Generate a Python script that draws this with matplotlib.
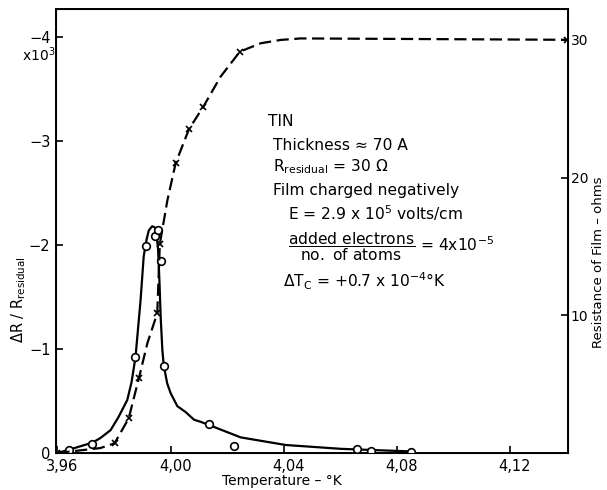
import matplotlib
matplotlib.use("Agg")
import matplotlib.pyplot as plt
from matplotlib.transforms import ScaledTranslation

plt.rcParams['font.family'] = ['DejaVu Sans']
plt.rcParams['mathtext.default'] = 'regular'

# ---- data ----
# open circles: Delta R / R_residual (x 10^-3)
circ_T = [3.964, 3.9723, 3.9875, 3.9912, 3.9944, 3.9955, 3.9965, 3.9976,
          4.0136, 4.0224, 4.0658, 4.0708, 4.0850]
circ_dR = [-0.03, -0.09, -0.92, -1.99, -2.09, -2.14, -1.85, -0.84,
           -0.28, -0.07, -0.035, -0.022, -0.013]

# solid fitted curve through the circles
fit_T = [3.9600, 3.9639, 3.9724, 3.9752, 3.9788, 3.9816, 3.9847, 3.9862,
         3.9876, 3.9894, 3.9905, 3.9915, 3.9923, 3.9935, 3.9944, 3.9950,
         3.9956, 3.9961, 3.9965, 3.9971, 3.9976, 3.9988, 4.0000, 4.0024,
         4.0053, 4.0083, 4.0106, 4.0135, 4.0248, 4.0407, 4.0602, 4.0850]
fit_dR = [0.0, -0.03, -0.10, -0.144, -0.22, -0.346, -0.51, -0.68,
          -0.92, -1.47, -1.89, -2.05, -2.14, -2.18, -2.17, -2.12,
          -1.95, -1.63, -1.31, -0.99, -0.84, -0.67, -0.577, -0.45,
          -0.394, -0.32, -0.30, -0.27, -0.15, -0.077, -0.04, -0.015]

# crosses: resistance of film (ohms)
x_T = [3.9600, 3.9802, 3.9852, 3.9888, 3.9953, 3.9962, 4.0018, 4.0065,
       4.0116, 4.0245, 4.1400]
x_R = [0.0, 0.70, 2.52, 5.43, 10.15, 15.18, 21.04, 23.51, 25.15, 29.14, 30.0]

# dashed curve through the crosses
dash_T = [3.9600, 3.9752, 3.9802, 3.9852, 3.9888, 3.9918, 3.9953, 3.9962,
          3.9989, 4.0018, 4.0065, 4.0116, 4.0177, 4.0245, 4.0319, 4.0389,
          4.0460, 4.1405]
dash_R = [0.0, 0.36, 0.70, 2.52, 5.43, 7.97, 10.15, 15.18,
          18.37, 21.04, 23.51, 25.15, 27.33, 29.14, 29.75, 29.99,
          30.1, 30.0]

x_ticks = [3.96, 4.00, 4.04, 4.08, 4.12]
x_ticklabels = ["3,96", "4,00", "4,04", "4,08", "4,12"]
left_ticks = [0, -1, -2, -3, -4]
left_ticklabels = ["0", "\u22121", "\u22122", "\u22123", "\u22124"]
right_ticks = [10, 20, 30]
right_ticklabels = ["10", "20", "30"]

W, H = 607, 490
fig = plt.figure(figsize=(W / 100, H / 100), dpi=100)
ax = fig.add_axes([56 / W, 1 - 453 / H, (568 - 56) / W, (453 - 9.5) / H])

ax.plot(fit_T, fit_dR, color='black', lw=1.6, zorder=3)
ax.plot(circ_T, circ_dR, linestyle='none', marker='o', ms=5.5, mfc='white',
        mec='black', mew=1.2, zorder=4)
ax.set_xlim(3.9595, 4.1405)
ax.set_ylim(0, -4.264)
ax.set_xticks(x_ticks)
ax.set_xticklabels(x_ticklabels)
ax.set_yticks(left_ticks)
ax.set_yticklabels(left_ticklabels)
ax.tick_params(direction='in', length=5, width=1.2, labelsize=10.5, pad=4)
for s in ax.spines.values():
    s.set_linewidth(1.4)
shift = ScaledTranslation(5 / 100, 0, fig.dpi_scale_trans)
for lab in ax.get_xticklabels():
    lab.set_transform(lab.get_transform() + shift)

ax2 = ax.twinx()
ax2.plot(dash_T, dash_R, color='black', lw=1.6, dashes=(5.5, 2.5), zorder=3)
ax2.plot(x_T, x_R, linestyle='none', marker='x', ms=4.5, mec='black', mew=1.2,
         zorder=4)
ax2.set_ylim(0, 32.2)
ax2.set_yticks(right_ticks)
ax2.set_yticklabels(right_ticklabels)
ax2.tick_params(direction='in', length=5, width=1.2, labelsize=10, pad=2)
ax2.set_xlim(3.9595, 4.1405)

ax.set_xlabel("Temperature \u2013 \u00b0K", fontsize=10, va='center')
ax.xaxis.set_label_coords((282 - 56) / 512, (453 - 481) / 443.5)
ax.set_ylabel("\u0394R / R$_{residual}$", fontsize=10.5, va='center')
ax.yaxis.set_label_coords((19 - 56) / 512, (453 - 300) / 443.5)
ax2.set_ylabel("Resistance of Film \u2013 ohms", fontsize=9.5, va='center')
ax2.yaxis.set_label_coords((598 - 56) / 512, (453 - 262) / 443.5)

fig.text(22 / W, 1 - 55 / H, "x10$^3$", fontsize=10, ha='left', va='center')

fs = 11.2
def T(px, py, s, **kw):
    fig.text(px / W, 1 - py / H, s, fontsize=fs, ha='left', va='center', **kw)

T(268, 121, "TIN")
T(273, 145, "Thickness \u2248 70 A")
T(273, 167, "R$_{residual}$ = 30 \u03a9")
T(273, 190, "Film charged negatively")
T(288, 213, "E = 2.9 x 10$^5$ volts/cm")
T(288, 247, r"$\dfrac{added\ electrons}{no.\ of\ atoms}$ = 4x10$^{-5}$")
T(283, 281, "\u0394T$_C$ = +0.7 x 10$^{-4}$\u00b0K")

fig.savefig("out.png", dpi=100)
